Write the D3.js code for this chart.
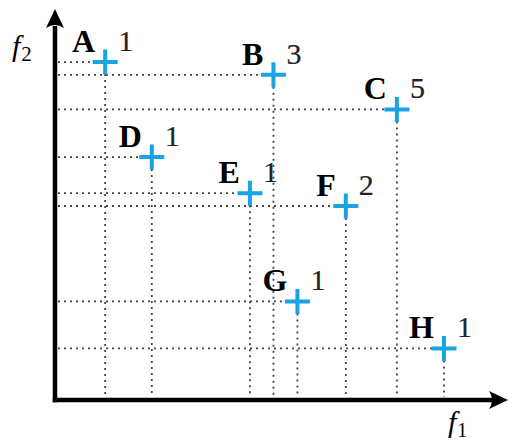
<!DOCTYPE html>
<html>
<head>
<meta charset="utf-8">
<script src="https://cdn.jsdelivr.net/npm/d3@7"></script>
<style>
  html, body { margin: 0; padding: 0; background: #fff; }
  svg { display: block; }
</style>
</head>
<body>
<svg id="chart" width="509" height="441"></svg>
<script>
// Solutions in the objective space (f1, f2) and how many times each was found
const names  = ["A", "B", "C", "D", "E", "F", "G", "H"];
const f1     = [11.3, 49.2, 77.0, 21.8, 43.9, 65.5, 54.6, 87.6];
const f2     = [87.1, 83.8, 74.9, 62.6, 53.3, 50.0, 25.4, 13.3];
const counts = [1, 3, 5, 1, 1, 2, 1, 1];

const svg = d3.select("#chart");
const ox = 55, oy = 400;        // origin of the axes

const x = d3.scaleLinear().domain([0, 100]).range([ox, 499]);
const y = d3.scaleLinear().domain([0, 100]).range([oy, 12]);

const points = names.map((n, i) => ({ name: n, f1: f1[i], f2: f2[i], count: counts[i] }));

// dotted guide lines down to the f1 axis and across to the f2 axis
const guides = svg.append("g")
  .attr("stroke", "#444")
  .attr("stroke-width", 1.8)
  .attr("stroke-dasharray", "2,4")
  .attr("fill", "none");

guides.selectAll("line.h").data(points).join("line")
  .attr("class", "h")
  .attr("x1", ox + 3).attr("x2", d => x(d.f1))
  .attr("y1", d => y(d.f2)).attr("y2", d => y(d.f2));

guides.selectAll("line.v").data(points).join("line")
  .attr("class", "v")
  .attr("x1", d => x(d.f1)).attr("x2", d => x(d.f1))
  .attr("y1", d => y(d.f2)).attr("y2", oy - 3);

// axes with arrow heads
const axes = svg.append("g");
axes.append("line")
  .attr("x1", ox).attr("x2", ox).attr("y1", oy + 2.25).attr("y2", 26)
  .attr("stroke", "#000").attr("stroke-width", 4.5);
axes.append("line")
  .attr("x1", ox - 2.25).attr("x2", 492).attr("y1", oy).attr("y2", oy)
  .attr("stroke", "#000").attr("stroke-width", 4.5);
axes.append("path")
  .attr("d", `M${ox},9 L${ox - 9},28 Q${ox},22 ${ox + 9},28 Z`)
  .attr("fill", "#000");
axes.append("path")
  .attr("d", `M508,${oy} L489,${oy - 9} Q495,${oy} 489,${oy + 9} Z`)
  .attr("fill", "#000");

// axis labels
const lblFont = "'Liberation Serif', 'DejaVu Serif', serif";
const f2Label = svg.append("text")
  .attr("x", 12).attr("y", 56)
  .attr("font-family", lblFont).attr("font-size", 30).attr("font-style", "italic");
f2Label.append("tspan").text("f");
f2Label.append("tspan").attr("font-style", "normal").attr("font-size", 21).attr("dx", 1).attr("dy", 5).text("2");

const f1Label = svg.append("text")
  .attr("x", 448).attr("y", 432)
  .attr("font-family", lblFont).attr("font-size", 30).attr("font-style", "italic");
f1Label.append("tspan").text("f");
f1Label.append("tspan").attr("font-style", "normal").attr("font-size", 20).attr("dx", 1).attr("dy", 5).text("1");

// blue cross markers
const arm = 12.5;
const marks = svg.append("g")
  .attr("stroke", "#1aa3e4")
  .attr("stroke-width", 4);
marks.selectAll("path").data(points).join("path")
  .attr("d", d => {
    const cx = x(d.f1), cy = y(d.f2);
    return `M${cx - arm},${cy} H${cx + arm} M${cx},${cy - arm} V${cy + arm}`;
  });

// solution names and counts
svg.append("g").selectAll("text").data(points).join("text")
  .attr("x", d => x(d.f1) - 10)
  .attr("y", d => y(d.f2) - 10)
  .attr("text-anchor", "end")
  .attr("font-family", lblFont)
  .attr("font-weight", "bold")
  .attr("font-size", 32)
  .text(d => d.name);

svg.append("g").selectAll("text").data(points).join("text")
  .attr("x", d => x(d.f1) + 13)
  .attr("y", d => y(d.f2) - 11)
  .attr("font-family", lblFont)
  .attr("font-size", 30)
  .attr("fill", "#222")
  .attr("stroke", "#222")
  .attr("stroke-width", 0.2)
  .text(d => d.count);
</script>
</body>
</html>
